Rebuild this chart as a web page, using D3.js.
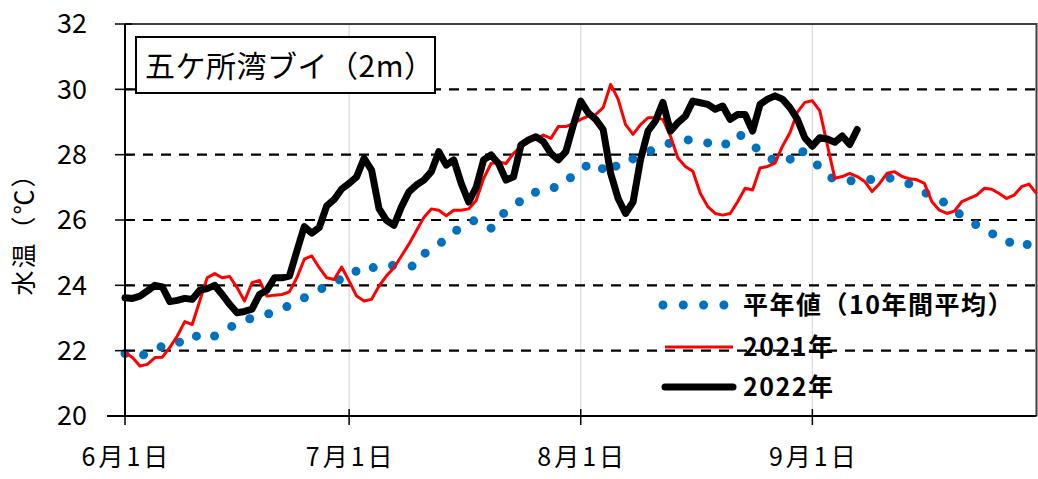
<!DOCTYPE html>
<html><head><meta charset="utf-8">
<script src="https://cdn.jsdelivr.net/npm/d3@7"></script>
<style>
body{margin:0;background:#fff}
text{font-family:"Noto Sans CJK JP","Noto Sans",sans-serif;fill:#000}
</style>
</head><body>
<svg id="c" width="1038" height="479"></svg>
<script>
// ---- data (daily water temperature, from 6/1) ----
const title = "五ケ所湾ブイ（2m）";
const yTitle = "水温（℃）";
const seriesNames = ["平年値（10年間平均）", "2021年", "2022年"];
const yTicks = [20, 22, 24, 26, 28, 30, 32];
const xTickDates = ["2022-06-01", "2022-07-01", "2022-08-01", "2022-09-01"];
const xTickLabels = ["6月1日", "7月1日", "8月1日", "9月1日"];

const normal = [
  21.91, 21.85, 21.8, 21.95, 22.1, 22.12, 22.12, 22.2, 22.4, 22.5,
  22.4, 22.33, 22.45, 22.58, 22.7, 22.85, 22.92, 23.0, 23.08, 23.12,
  23.17, 23.25, 23.4, 23.5, 23.62, 23.72, 23.85, 24.0, 24.1, 24.2,
  24.22, 24.45, 24.62, 24.55, 24.52, 24.55, 24.62, 24.6, 24.58, 24.6,
  24.95, 25.15, 25.28, 25.38, 25.6, 25.82, 25.92, 26.0, 25.85, 25.75,
  26.1, 26.25, 26.4, 26.6, 26.83, 26.85, 26.85, 26.95, 27.05, 27.12,
  27.4, 27.57, 27.68, 27.77, 27.55, 27.4, 27.75, 27.87, 27.87, 27.95,
  28.08, 28.18, 28.28, 28.36, 28.42, 28.46, 28.44, 28.4, 28.36, 28.3,
  28.24, 28.45, 28.65, 28.5, 28.3, 28.1, 27.92, 27.82, 27.75, 27.85,
  28.2, 28.05, 27.85, 27.6, 27.35, 27.25, 27.2, 27.2, 27.2, 27.2,
  27.25, 27.3, 27.3, 27.25, 27.21, 27.1, 26.95, 26.85, 26.72, 26.63,
  26.48, 26.32, 26.12, 25.95, 25.85, 25.77, 25.6, 25.42, 25.3, 25.35,
  25.4, 25.2, 24.98
];

const y2021 = [
  21.94, 21.79, 21.53, 21.58, 21.79, 21.8, 22.1, 22.45, 22.89, 22.8,
  23.52, 24.23, 24.36, 24.23, 24.27, 23.93, 23.52, 24.08, 24.15, 23.67,
  23.7, 23.72, 23.8, 24.23, 24.8, 24.9, 24.54, 24.23, 24.18, 24.56,
  24.13, 23.67, 23.52, 23.57, 23.98, 24.29, 24.54, 24.9, 25.26, 25.67,
  26.08, 26.34, 26.3, 26.13, 26.3, 26.3, 26.34, 26.6, 27.27, 27.73,
  27.78, 27.73, 28.04, 28.25, 28.4, 28.5, 28.6, 28.5, 28.86, 28.86,
  28.95, 29.08, 29.18, 29.23, 29.44, 30.15, 29.7, 28.92, 28.62, 28.92,
  29.13, 29.13, 29.08, 28.57, 27.9, 27.64, 27.49, 26.82, 26.41, 26.2,
  26.15, 26.2, 26.56, 26.97, 26.92, 27.59, 27.64, 27.74, 28.26, 28.67,
  29.3, 29.6, 29.65, 29.34, 28.3, 27.28, 27.33, 27.43, 27.33, 27.18,
  26.87, 27.12, 27.43, 27.48, 27.33, 27.26, 27.23, 27.12, 26.56, 26.3,
  26.2, 26.27, 26.56, 26.66, 26.76, 26.97, 26.94, 26.81, 26.66, 26.76,
  27.02, 27.1, 26.81
];

const y2022 = [
  23.62, 23.6, 23.67, 23.83, 24.0, 23.95, 23.5, 23.54, 23.6, 23.57,
  23.85, 23.9, 24.0, 23.72, 23.42, 23.16, 23.2, 23.27, 23.72, 23.85,
  24.23, 24.23, 24.28, 25.05, 25.8, 25.6, 25.77, 26.43, 26.63, 26.95,
  27.12, 27.32, 27.89, 27.53, 26.35, 25.99, 25.84, 26.4, 26.86, 27.07,
  27.22, 27.48, 28.09, 27.68, 27.84, 27.12, 26.55, 27.0, 27.84, 27.99,
  27.73, 27.22, 27.32, 28.3, 28.45, 28.55, 28.4, 28.04, 27.84, 28.09,
  28.9, 29.64, 29.28, 29.08, 28.77, 27.43, 26.66, 26.2, 26.55, 27.85,
  28.72, 29.03, 29.6, 28.72, 28.98, 29.18, 29.64, 29.59, 29.54, 29.39,
  29.49, 29.08, 29.23, 29.23, 28.72, 29.54, 29.7, 29.8, 29.7, 29.44,
  29.08, 28.51, 28.26, 28.52, 28.48, 28.38, 28.57, 28.31, 28.77
];

// ---- drawing ----
const svg = d3.select("#c");
const W = 1038, H = 479;
svg.append("rect").attr("width", W).attr("height", H).attr("fill", "#fff");

const start = new Date(2022, 5, 1);
const dayDate = i => d3.timeDay.offset(start, i);
const x = d3.scaleTime().domain([start, new Date(2022, 9, 1)]).range([125, 1036.5]);
const y = d3.scaleLinear().domain([20, 32]).range([416, 24]);
const parse = d3.timeParse("%Y-%m-%d");
const tickDates = xTickDates.map(parse);

// vertical light gridlines
svg.append("g").selectAll("line").data(tickDates.slice(1)).join("line")
  .attr("x1", d => x(d)).attr("x2", d => x(d))
  .attr("y1", y(32)).attr("y2", y(20))
  .attr("stroke", "#d9d9d9").attr("stroke-width", 1.2);

// dashed horizontal gridlines
svg.append("g").selectAll("line").data(yTicks.filter(v => v > 20 && v < 32)).join("line")
  .attr("x1", x.range()[0]).attr("x2", x.range()[1])
  .attr("y1", d => y(d)).attr("y2", d => y(d))
  .attr("stroke", "#000").attr("stroke-width", 2.2)
  .attr("stroke-dasharray", "10,8");

// plot border (top/right)
svg.append("path")
  .attr("d", `M${x.range()[0]},${y(32)}H${x.range()[1]}V${y(20)}`)
  .attr("fill", "none").attr("stroke", "#404040").attr("stroke-width", 2);

// series
const line = d3.line().x((d, i) => x(dayDate(i))).y(d => y(d));
const plot = svg.append("g");
plot.append("path").datum(normal).attr("d", line)
  .attr("fill", "none").attr("stroke", "#0070c0").attr("stroke-width", 9)
  .attr("stroke-linecap", "round").attr("stroke-dasharray", "0,19.7");
plot.append("path").datum(y2021).attr("d", line)
  .attr("fill", "none").attr("stroke", "#ff0000").attr("stroke-width", 3)
  .attr("stroke-linejoin", "round");
plot.append("path").datum(y2022).attr("d", line)
  .attr("fill", "none").attr("stroke", "#000").attr("stroke-width", 7)
  .attr("stroke-linejoin", "round").attr("stroke-linecap", "round");

// axes
const yAxis = svg.append("g");
yAxis.append("line").attr("x1", 125).attr("x2", 125).attr("y1", y(32)).attr("y2", y(20))
  .attr("stroke", "#000").attr("stroke-width", 2);
yAxis.selectAll(".tk").data(yTicks).join("line")
  .attr("x1", 115).attr("x2", 132).attr("y1", d => y(d)).attr("y2", d => y(d))
  .attr("stroke", "#000").attr("stroke-width", 1.5);
yAxis.selectAll("text").data(yTicks).join("text")
  .attr("x", 87).attr("y", d => y(d)).attr("dy", "0.35em")
  .attr("text-anchor", "end").attr("font-size", 27).text(d => d);

const xAxis = svg.append("g");
xAxis.append("line").attr("x1", 107).attr("x2", x.range()[1]).attr("y1", y(20)).attr("y2", y(20))
  .attr("stroke", "#000").attr("stroke-width", 2);
xAxis.selectAll(".tk").data(tickDates).join("line")
  .attr("x1", d => x(d)).attr("x2", d => x(d)).attr("y1", 409).attr("y2", 425)
  .attr("stroke", "#000").attr("stroke-width", 1.5);
xAxis.selectAll("text").data(tickDates).join("text")
  .attr("x", d => x(d) + 1.5).attr("y", 457).attr("dy", "0.35em")
  .attr("text-anchor", "middle").attr("font-size", 25).attr("letter-spacing", 3)
  .text((d, i) => xTickLabels[i]);

// y title
svg.append("text").attr("transform", "translate(24,228) rotate(-90)")
  .attr("text-anchor", "middle").attr("dy", "0.35em").attr("font-size", 25)
  .attr("letter-spacing", 2).text(yTitle);

// title box
svg.append("rect").attr("x", 136).attr("y", 37).attr("width", 299).attr("height", 56)
  .attr("fill", "#fff").attr("stroke", "#000").attr("stroke-width", 2);
svg.append("text").attr("x", 145).attr("y", 66).attr("dy", "0.35em")
  .attr("font-size", 30).attr("letter-spacing", 0.5).text(title);

// legend
const leg = svg.append("g");
const legY = [305, 347, 387];
leg.append("line").attr("x1", 663).attr("x2", 724).attr("y1", legY[0]).attr("y2", legY[0])
  .attr("stroke", "#0070c0").attr("stroke-width", 9).attr("stroke-linecap", "round")
  .attr("stroke-dasharray", "0,20.3");
leg.append("line").attr("x1", 665).attr("x2", 733).attr("y1", legY[1]).attr("y2", legY[1])
  .attr("stroke", "#ff0000").attr("stroke-width", 3);
leg.append("line").attr("x1", 665).attr("x2", 733).attr("y1", legY[2]).attr("y2", legY[2])
  .attr("stroke", "#000").attr("stroke-width", 7).attr("stroke-linecap", "round");
leg.selectAll("text").data(seriesNames).join("text")
  .attr("x", 743).attr("y", (d, i) => legY[i]).attr("dy", "0.35em")
  .attr("font-size", 25).attr("font-weight", "bold").attr("letter-spacing", 1.5)
  .text(d => d);
</script>
</body></html>
